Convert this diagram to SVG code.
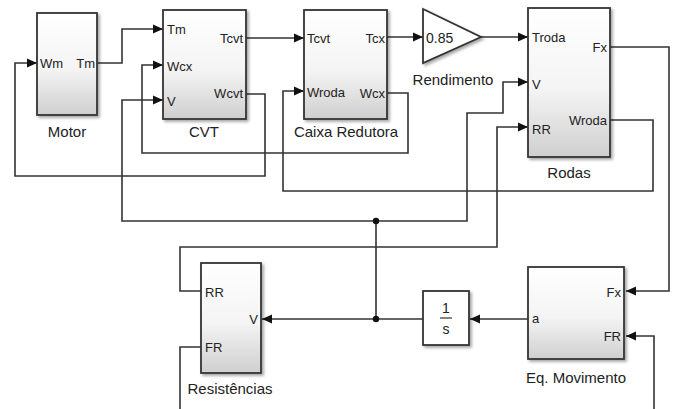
<svg xmlns="http://www.w3.org/2000/svg" width="676" height="409" viewBox="0 0 676 409">
<defs>
<linearGradient id="bg" x1="0" y1="0" x2="0" y2="1">
<stop offset="0" stop-color="#ffffff"/>
<stop offset="0.55" stop-color="#f4f4f4"/>
<stop offset="1" stop-color="#cfcfcf"/>
</linearGradient>
<filter id="sh" x="-10%" y="-10%" width="130%" height="130%">
<feGaussianBlur in="SourceAlpha" stdDeviation="1.5"/>
<feOffset dx="2" dy="2" result="b"/>
<feComponentTransfer><feFuncA type="linear" slope="0.35"/></feComponentTransfer>
<feMerge><feMergeNode/><feMergeNode in="SourceGraphic"/></feMerge>
</filter>
<marker id="ar" markerWidth="10" markerHeight="10" refX="10" refY="5" orient="auto" markerUnits="userSpaceOnUse">
<path d="M0,0.5 L10,5 L0,9.5 Z" fill="#111"/>
</marker>
</defs>
<style>
.blk{fill:url(#bg);stroke:#333;stroke-width:1.8;filter:url(#sh)}
.wht{fill:#fff;stroke:#333;stroke-width:1.8;filter:url(#sh)}
.ln{fill:none;stroke:#333;stroke-width:1.6}
.ar{marker-end:url(#ar)}
text{font-family:"Liberation Sans",Arial,sans-serif;fill:#222}
.p{font-size:13px}
.l{font-size:15px;text-anchor:middle}
.e{text-anchor:end}
</style>
<rect width="676" height="409" fill="#fff"/>
<g id="connectors">
<path class="ln ar" d="M97,63 H122 V29 H163"/>
<path class="ln ar" d="M246,38 H304"/>
<path class="ln ar" d="M246,94 H265 V176 H15 V63 H37"/>
<path class="ln ar" d="M387,93 H408 V153 H142 V65 H163"/>
<path class="ln ar" d="M387,37 H423"/>
<path class="ln ar" d="M481,37 H528"/>
<path class="ln ar" d="M610,47 H669 V291 H626"/>
<path class="ln ar" d="M610,120 H653 V191 H283 V91 H304"/>
<path class="ln ar" d="M423,319 H262"/>
<path class="ln ar" d="M376,319 V221 H122 V100 H163"/>
<path class="ln ar" d="M376,221 H467 V113 H503 V82 H528"/>
<path class="ln ar" d="M201,291 H180 V247 H497 V127 H528"/>
<path class="ln" d="M201,347 H180 V409"/>
<path class="ln ar" d="M654,409 V336 H626"/>
<path class="ln ar" d="M528,319 H470"/>
<circle cx="376" cy="221" r="3.2" fill="#111"/>
<circle cx="376" cy="319" r="3.2" fill="#111"/>
</g>
<g id="motor">
<rect class="blk" x="37" y="13" width="60" height="102"/>
<text class="p" x="40" y="68">Wm</text>
<text class="p e" x="95" y="68">Tm</text>
<text class="l" x="67" y="137">Motor</text>
</g>
<g id="cvt">
<rect class="blk" x="163" y="10" width="83" height="109"/>
<text class="p" x="167" y="34">Tm</text>
<text class="p" x="167" y="71">Wcx</text>
<text class="p" x="167" y="106">V</text>
<text class="p e" x="243" y="43">Tcvt</text>
<text class="p e" x="243" y="98">Wcvt</text>
<text class="l" x="204" y="137">CVT</text>
</g>
<g id="caixa">
<rect class="blk" x="304" y="10" width="83" height="109"/>
<text class="p" x="307" y="43">Tcvt</text>
<text class="p" x="307" y="97">Wroda</text>
<text class="p e" x="385" y="43">Tcx</text>
<text class="p e" x="385" y="98">Wcx</text>
<text class="l" x="346" y="137">Caixa Redutora</text>
</g>
<g id="rendimento">
<path class="wht" d="M423,9 L481,37 L423,63 Z"/>
<text x="426" y="43" style="font-size:14px">0.85</text>
<text class="l" x="453" y="85">Rendimento</text>
</g>
<g id="rodas">
<rect class="blk" x="528" y="8" width="82" height="149"/>
<text class="p" x="532" y="42">Troda</text>
<text class="p" x="532" y="89">V</text>
<text class="p" x="532" y="134">RR</text>
<text class="p e" x="607" y="52">Fx</text>
<text class="p e" x="607" y="125">Wroda</text>
<text class="l" x="569" y="178">Rodas</text>
</g>
<g id="resistencias">
<rect class="blk" x="201" y="263" width="60" height="110"/>
<text class="p" x="205" y="297">RR</text>
<text class="p e" x="258" y="324">V</text>
<text class="p" x="205" y="352">FR</text>
<text class="l" x="230" y="394">Resistências</text>
</g>
<g id="integrador">
<rect class="wht" x="423" y="291" width="46" height="54"/>
<text x="446" y="313" style="font-size:14px;text-anchor:middle">1</text>
<line x1="440" y1="318" x2="452" y2="318" stroke="#333" stroke-width="1.2"/>
<text x="446" y="334" style="font-size:14px;text-anchor:middle">s</text>
</g>
<g id="eqmovimento">
<rect class="blk" x="528" y="267" width="96" height="92"/>
<text class="p" x="532" y="323">a</text>
<text class="p e" x="621" y="297">Fx</text>
<text class="p e" x="621" y="341">FR</text>
<text class="l" x="576" y="383">Eq. Movimento</text>
</g>
</svg>
